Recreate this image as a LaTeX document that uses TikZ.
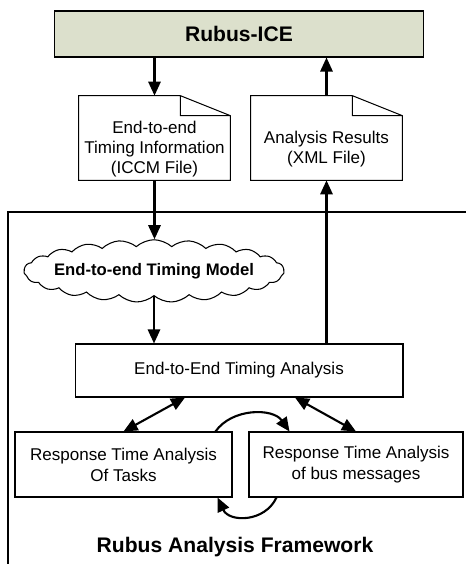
\documentclass[tikz,border=0pt]{standalone}
\usepackage{fontspec}
\setmainfont{Liberation Sans}
\usetikzlibrary{arrows.meta,shapes.symbols,calc}
\definecolor{icegreen}{RGB}{220,224,204}

\begin{document}
\begin{tikzpicture}[x=0.02cm, y=-0.02cm, >={Triangle[length=8pt,width=7pt]},
    box/.style={rectangle, draw, line width=0.6pt, inner sep=0pt, align=center, font=\fontsize{9.7pt}{12pt}\selectfont},
    file/.style={rectangle, inner sep=0pt, minimum width=3.02cm, minimum height=1.68cm},
    filetext/.style={align=center, inner sep=0pt, yshift=-0.22cm, font=\fontsize{9.7pt}{11.4pt}\selectfont},
    link/.style={line width=1.2pt}]
    \useasboundingbox (0,0) rectangle (466,564);

    % framework border
    \draw[line width=0.6pt] (8,564) -- (8,212) -- (466,212);

    \path (239,34) node[box, fill=icegreen, minimum width=7.4cm, minimum height=0.92cm, font=\fontsize{12pt}{14pt}\selectfont\bfseries] (ice) {Rubus-ICE}
        (154.5,138) node[file, label={[filetext]center:{End-to-end\\Timing Information\\(ICCM File)}}] (info) {}
        (326.5,138) node[file, label={[filetext]center:{Analysis Results\\(XML File)}}] (results) {}
        (154,271) node[cloud, draw, line width=0.6pt, cloud puffs=23, cloud puff arc=85, cloud ignores aspect, minimum width=5.05cm, minimum height=1.25cm, inner xsep=-0.15cm, inner ysep=0pt, font=\fontsize{9.5pt}{11pt}\selectfont\bfseries] (model) {End-to-end Timing Model}
        (239,370.5) node[box, minimum width=6.56cm, minimum height=1.06cm] (e2e) {End-to-End Timing Analysis}
        (123.5,464.5) node[box, minimum width=4.34cm, minimum height=1.3cm] (tasks) {Response Time Analysis\\Of Tasks}
        (356,464.5) node[box, minimum width=4.28cm, minimum height=1.3cm] (bus) {Response Time Analysis\\of bus messages}
        (235,547) node[font=\fontsize{12pt}{14pt}\selectfont\bfseries] (framework) {Rubus Analysis Framework};

    % dog-eared file outlines
    \foreach \f in {info,results}
        \draw[line width=0.6pt] (\f.south west) -- (\f.north west) -- ($(\f.north east)+(-50,0)$) -- ($(\f.north east)+(0,20)$) -- (\f.south east) -- cycle
            ($(\f.north east)+(-50,0)$) |- ($(\f.north east)+(0,20)$);

    \draw[link,->] (ice.south -| info.north) -- (info.north);
    \draw[link,->] (results.north) -- (results.north |- ice.south);
    \draw[link,->] (info.south) -- (info.south |- model.north);
    \draw[link,->] (model.south) -- (model.south |- e2e.north);
    \draw[link,->] (e2e.north -| results.south) -- (results.south);
    \draw[link,<->] (tasks.north) -- ($(e2e.south)+(-54,0)$);
    \draw[link,<->] ($(e2e.south)+(56,0)$) -- (bus.north);
    \draw[link,->] ($(tasks.north east)+(-17,0)$) to[bend left=55] ($(bus.north west)+(41,0)$);
    \draw[link,->] ($(bus.south west)+(28,0)$) to[out=-115,in=-65,looseness=1.2] ($(tasks.south east)+(-15,0)$);
\end{tikzpicture}
\end{document}
